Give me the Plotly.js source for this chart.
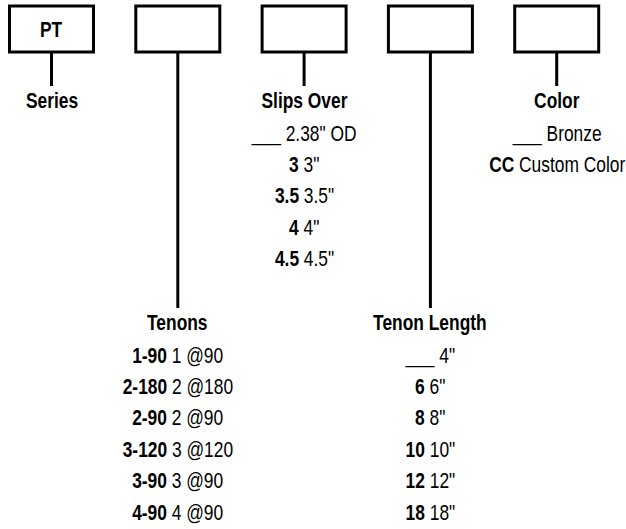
<!DOCTYPE html>
<html>
<head>
<meta charset="utf-8">
<script src="https://cdn.plot.ly/plotly-3.0.1.min.js"></script>
<style>
html,body{margin:0;padding:0;background:#fff;}
#chart{width:626px;height:529px;}
</style>
</head>
<body>
<div id="chart"></div>
<script>
// Ordering-code segments (one box per segment)
var boxLabels = ["PT", "", "", "", ""];
var headers = ["Series", "Tenons", "Slips Over", "Tenon Length", "Color"];
// options per segment: code (bold) + description
var seriesCodes = [];
var seriesDescs = [];
var tenonCodes = ["1-90", "2-180", "2-90", "3-120", "3-90", "4-90"];
var tenonDescs = ["1 @90", "2 @180", "2 @90", "3 @120", "3 @90", "4 @90"];
var slipCodes = ["___", "3", "3.5", "4", "4.5"];
var slipDescs = ["2.38\" OD", "3\"", "3.5\"", "4\"", "4.5\""];
var lengthCodes = ["___", "6", "8", "10", "12", "18"];
var lengthDescs = ["4\"", "6\"", "8\"", "10\"", "12\"", "18\""];
var colorCodes = ["___", "CC"];
var colorDescs = ["Bronze", "Custom Color"];

var codesBySeg = [seriesCodes, tenonCodes, slipCodes, lengthCodes, colorCodes];
var descsBySeg = [seriesDescs, tenonDescs, slipDescs, lengthDescs, colorDescs];
var lowSeg = [false, true, false, true, false];

var FONT = "'Liberation Sans', Arial, sans-serif";
var FS = 22;
var CONDENSE = 0.79;
var boxLeft0 = 9.5, pitch = 126.3, boxW = 84, boxTop = 6, boxBot = 52;
var highHeaderY = 100, lowHeaderY = 322;
var rowStep = 31.4;

var shapes = [], annotations = [];
for (var i = 0; i < boxLabels.length; i++) {
  var x0 = boxLeft0 + i * pitch, x1 = x0 + boxW, xc = (x0 + x1) / 2;
  shapes.push({type: "rect", xref: "x", yref: "y", x0: x0, x1: x1, y0: boxTop, y1: boxBot,
    line: {color: "#000", width: 3}});
  var hy = lowSeg[i] ? lowHeaderY : highHeaderY;
  shapes.push({type: "line", xref: "x", yref: "y", x0: xc, x1: xc, y0: boxBot, y1: hy - 14,
    line: {color: "#000", width: 3}});
  if (boxLabels[i]) {
    annotations.push({x: xc, y: (boxTop + boxBot) / 2, xref: "x", yref: "y", text: "<b>" + boxLabels[i] + "</b>",
      showarrow: false, xanchor: "center", yanchor: "middle", font: {family: FONT, size: FS, color: "#000"}});
  }
  annotations.push({x: xc, y: hy, xref: "x", yref: "y", text: "<b>" + headers[i] + "</b>",
    showarrow: false, xanchor: "center", yanchor: "middle", font: {family: FONT, size: FS, color: "#000"}});
  var codes = codesBySeg[i], descs = descsBySeg[i];
  for (var k = 0; k < codes.length; k++) {
    var c = codes[k] === "___" ? codes[k] : "<b>" + codes[k] + "</b>";
    annotations.push({x: xc, y: hy + 33 + k * rowStep, xref: "x", yref: "y", text: c + " " + descs[k],
      showarrow: false, xanchor: "center", yanchor: "middle", font: {family: FONT, size: FS, color: "#000"}});
  }
}

var layout = {
  width: 626, height: 529,
  margin: {l: 0, r: 0, t: 0, b: 0},
  paper_bgcolor: "#fff", plot_bgcolor: "#fff",
  xaxis: {range: [0, 626], visible: false, fixedrange: true},
  yaxis: {range: [529, 0], visible: false, fixedrange: true},
  showlegend: false,
  shapes: shapes,
  annotations: annotations
};
Plotly.newPlot("chart", [{x: [], y: [], type: "scatter", mode: "markers"}], layout, {displayModeBar: false, staticPlot: true})
  .then(function (gd) {
    // narrow the lettering to mimic a condensed typeface
    var texts = gd.querySelectorAll("text.annotation-text");
    texts.forEach(function (t) {
      var b = t.getBBox();
      var cx = b.x + b.width / 2;
      t.setAttribute("transform", "translate(" + cx + " 0) scale(" + CONDENSE + " 1) translate(" + (-cx) + " 0)");
    });
  });
</script>
</body>
</html>
